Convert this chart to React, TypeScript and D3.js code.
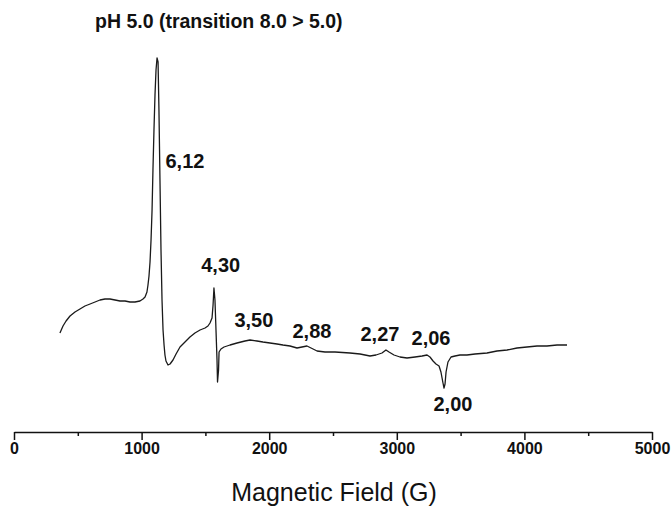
import React, {useEffect, useRef} from "react";
import {select, scaleLinear, line, axisBottom, range} from "d3";

const chartTitle = "pH 5.0 (transition 8.0 > 5.0)";
const xLabel = "Magnetic Field (G)";

// magnetic field (G)
const fieldValues = [
    360, 384, 408, 439, 478, 517, 556, 596, 635, 674, 713, 752, 792, 831, 870, 909, 948, 987,
    1011, 1027, 1042, 1050, 1058, 1066, 1074, 1082, 1089, 1097, 1105, 1113, 1121, 1129, 1136,
    1144, 1152, 1160, 1168, 1176, 1183, 1191, 1207, 1223, 1246, 1270, 1301, 1340, 1379, 1418,
    1458, 1497, 1520, 1536, 1552, 1560, 1567, 1575, 1583, 1591, 1595, 1603, 1607, 1622, 1646,
    1693, 1748, 1810, 1850, 1904, 1951, 2006, 2061, 2108, 2163, 2218, 2257, 2296, 2328, 2375,
    2437, 2516, 2633, 2712, 2790, 2837, 2884, 2915, 2939, 2978, 3025, 3080, 3143, 3198, 3237,
    3260, 3284, 3307, 3331, 3346, 3362, 3370, 3378, 3386, 3401, 3425, 3456, 3495, 3550, 3613,
    3707, 3785, 3864, 3942, 4020, 4099, 4177, 4256, 4334
];

// EPR signal (a.u.), same order as fieldValues
const signalValues = [
    17, 24, 29, 34, 38, 41, 44, 46, 48, 50, 51, 51, 50, 49, 49, 48, 48, 49,
    51, 53, 58, 65, 74, 88, 110, 140, 180, 220, 255, 280, 292, 288, 240,
    170, 100, 50, 20, 5, -5, -11, -15, -14, -10, -4, 3, 8, 13, 17,
    20, 22, 24, 27, 32, 45, 62, 50, 20, -10, -32, -20, -2, 1, 3,
    5, 7, 9, 10, 9, 8, 7, 6, 5, 4, 2, 3, 4, 2,
    -1, -2, -2, -3, -4, -6, -5, -3, 0, -2, -5, -7, -8, -7, -6,
    -5, -7, -11, -14, -16, -22, -33, -38, -34, -22, -12, -7, -6, -5,
    -5, -4, -3, -1, 0, 2, 3, 4, 4, 5, 5
];

// g-factor annotations: label, field position, signal position
const gLabels = ["6,12", "4,30", "3,50", "2,88", "2,27", "2,06", "2,00"];
const gFields = [1340, 1620, 1880, 2335, 2868, 3268, 3440];
const gSignals = [182, 78, 23, 12, 9, 5, -61];

const majorTicks = [0, 1000, 2000, 3000, 4000, 5000];

const renderChart = (selection) => {
    const xScale = scaleLinear().domain([0, 5000]).range([14, 652]);
    const yScale = scaleLinear().domain([-100, 300]).range([450, 50]);
    const axisY = 432;
    const font = "'Liberation Sans', Arial, sans-serif";

    selection.selectAll("*").remove();

    selection.append("text")
        .attr("x", 95)
        .attr("y", 28)
        .attr("font-family", font)
        .attr("font-weight", "bold")
        .attr("font-size", 19.5)
        .attr("fill", "#111")
        .text(chartTitle);

    const points = fieldValues.map((f, i) => [f, signalValues[i]]);
    const spectrum = line()
        .x(d => xScale(d[0]))
        .y(d => yScale(d[1]));

    selection.append("path")
        .datum(points)
        .attr("d", spectrum)
        .attr("fill", "none")
        .attr("stroke", "#1a1a1a")
        .attr("stroke-width", 1.3)
        .attr("stroke-linejoin", "round");

    // g-value labels
    selection.selectAll(".g-label").data(gLabels).enter().append("text")
        .attr("class", "g-label")
        .attr("x", (d, i) => xScale(gFields[i]))
        .attr("y", (d, i) => yScale(gSignals[i]))
        .attr("text-anchor", "middle")
        .attr("font-family", font)
        .attr("font-weight", "bold")
        .attr("font-size", 20)
        .attr("fill", "#111")
        .text(d => d);

    // minor ticks
    const minorG = selection.append("g")
        .attr("transform", `translate(0, ${axisY})`);
    minorG.call(axisBottom(xScale)
        .tickValues(range(500, 5000, 1000))
        .tickSize(4)
        .tickSizeOuter(0)
        .tickFormat(() => ""));
    minorG.selectAll(".domain").remove();
    minorG.selectAll("line").attr("stroke-width", 1.5).attr("stroke", "#111");

    const xAxisG = selection.append("g")
        .attr("transform", `translate(0, ${axisY})`);
    xAxisG.call(axisBottom(xScale)
        .tickValues(majorTicks)
        .tickSize(8)
        .tickSizeOuter(0)
        .tickPadding(3)
        .tickFormat(d => String(d)));
    xAxisG.select(".domain").attr("stroke-width", 1.5).attr("stroke", "#111");
    xAxisG.selectAll("line").attr("stroke-width", 1.5).attr("stroke", "#111");
    xAxisG.selectAll("text")
        .attr("font-family", font)
        .attr("font-weight", "bold")
        .attr("font-size", 16)
        .attr("fill", "#111");

    selection.append("text")
        .attr("x", 334)
        .attr("y", 501)
        .attr("text-anchor", "middle")
        .attr("font-family", font)
        .attr("font-size", 25)
        .attr("fill", "#111")
        .text(xLabel);
};

const App = () => {
    const svgRef = useRef(null);

    useEffect(() => {
        select(svgRef.current).call(renderChart);
    });

    return (
        <svg ref={svgRef} width={671} height={509}
             style={{position: "absolute", left: 0, top: 0, background: "white"}}/>
    );
};

export default App;
